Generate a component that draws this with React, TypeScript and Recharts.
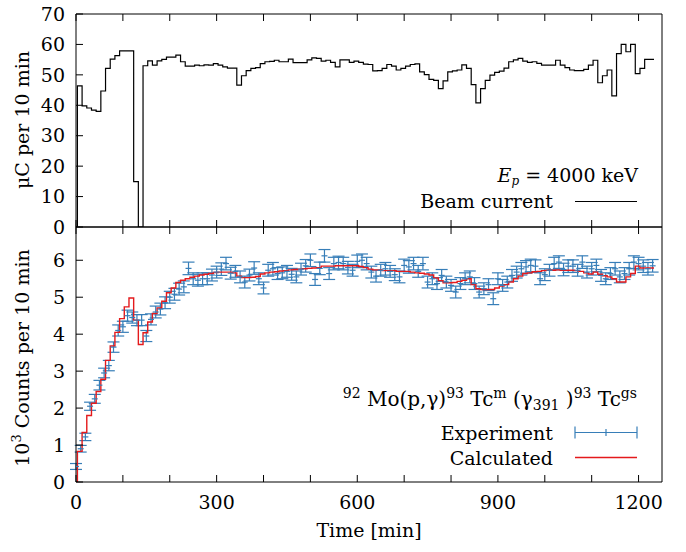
import { ComposedChart, ErrorBar, Line, Scatter, XAxis, YAxis } from 'recharts'

// 10-minute bins, first bin edge at t = 3 min
const binStart = 3
const binWidth = 10

// beam current per bin [uC per 10 min]
const beamCurrent = [
  46.4, 39.8, 39.1, 38.4, 38.0, 44.7, 52.1, 55.2, 56.3, 57.9,
  57.9, 57.9, 14.9, 0, 53.0, 54.6, 53.2, 54.6, 55.1, 55.8,
  55.8, 56.5, 54.3, 52.9, 52.9, 53.2, 53.0, 53.3, 53.2, 53.7,
  53.2, 52.6, 52.2, 52.2, 46.6, 49.7, 51.4, 52.1, 52.4, 53.7,
  54.3, 54.4, 54.8, 54.3, 54.3, 55.2, 54.0, 54.0, 54.0, 54.9,
  55.6, 55.4, 54.5, 54.8, 54.1, 52.6, 54.9, 54.9, 54.1, 54.5,
  54.1, 53.5, 53.4, 51.3, 51.4, 52.1, 53.4, 52.9, 51.6, 52.1,
  52.9, 53.4, 53.6, 51.0, 50.1, 48.5, 48.2, 45.5, 48.0, 51.0,
  51.3, 51.6, 53.3, 52.1, 46.8, 40.8, 45.5, 48.2, 49.9, 50.8,
  51.2, 52.2, 54.3, 54.9, 55.4, 54.5, 54.1, 54.3, 53.8, 53.2,
  53.2, 53.2, 54.8, 53.2, 52.4, 51.6, 51.4, 51.4, 51.8, 53.2,
  54.8, 47.4, 49.7, 51.6, 43.1, 57.0, 60.0, 57.6, 60.0, 50.4,
  52.1, 55.1, 55.1,
]

// calculated counts per bin [10^3 per 10 min]
const calculated = [
  0.83, 1.34, 1.80, 2.13, 2.45, 2.78, 3.29, 3.68, 4.05, 4.42,
  4.74, 4.98, 4.38, 3.72, 4.04, 4.33, 4.56, 4.71, 4.89, 5.12,
  5.25, 5.40, 5.46, 5.50, 5.54, 5.57, 5.60, 5.62, 5.64, 5.67,
  5.68, 5.68, 5.68, 5.66, 5.57, 5.53, 5.53, 5.54, 5.56, 5.63,
  5.66, 5.68, 5.69, 5.71, 5.72, 5.74, 5.75, 5.76, 5.77, 5.78,
  5.79, 5.80, 5.84, 5.84, 5.84, 5.85, 5.85, 5.85, 5.85, 5.85,
  5.83, 5.80, 5.76, 5.74, 5.74, 5.72, 5.72, 5.72, 5.70, 5.70,
  5.70, 5.68, 5.66, 5.65, 5.63, 5.60, 5.52, 5.45, 5.39, 5.39,
  5.40, 5.43, 5.46, 5.50, 5.34, 5.23, 5.21, 5.21, 5.21, 5.25,
  5.30, 5.34, 5.41, 5.50, 5.57, 5.64, 5.66, 5.69, 5.70, 5.72,
  5.73, 5.73, 5.74, 5.73, 5.73, 5.73, 5.72, 5.70, 5.66, 5.63,
  5.68, 5.62, 5.58, 5.55, 5.50, 5.41, 5.41, 5.55, 5.64, 5.84,
  5.79, 5.79, 5.79,
]

// measured counts, one point every 10 min from t = 0
const experiment = [
  0.42, 0.90, 1.22, 2.05, 2.25, 2.62, 2.95, 3.15, 3.65, 4.10,
  4.20, 4.50, 4.45, 4.38, 4.38, 3.95, 4.40, 4.60, 4.68, 4.85,
  5.00, 5.08, 5.22, 5.28, 5.78, 5.50, 5.46, 5.50, 5.50, 5.60,
  5.68, 5.76, 5.91, 5.65, 5.70, 5.55, 5.41, 5.60, 5.79, 5.50,
  5.25, 5.73, 5.77, 5.64, 5.66, 5.70, 5.62, 5.55, 5.76, 5.85,
  6.00, 5.48, 5.78, 6.12, 5.64, 5.91, 5.94, 5.91, 5.80, 5.73,
  5.97, 6.00, 5.91, 5.68, 5.57, 5.73, 5.77, 5.70, 5.61, 5.55,
  5.86, 5.82, 5.91, 5.70, 5.91, 5.41, 5.50, 5.37, 5.59, 5.41,
  5.32, 5.14, 5.37, 5.50, 5.55, 5.37, 5.14, 5.23, 5.34, 4.96,
  5.50, 5.32, 5.41, 5.59, 5.68, 5.77, 5.82, 5.86, 5.84, 5.50,
  5.61, 5.73, 5.91, 5.95, 5.75, 5.84, 5.84, 5.73, 5.95, 5.68,
  5.77, 5.86, 5.59, 5.50, 5.64, 5.77, 5.55, 5.64, 5.77, 5.95,
  5.91, 5.84, 5.77, 5.85,
]

const experimentErr = [
  0.08, 0.09, 0.10, 0.11, 0.12, 0.13, 0.13, 0.14, 0.14, 0.15,
  0.15, 0.15, 0.15, 0.15, 0.15, 0.15, 0.15, 0.16, 0.16, 0.16,
  0.16, 0.16, 0.16, 0.16, 0.17, 0.16, 0.16, 0.16, 0.16, 0.16,
  0.16, 0.17, 0.17, 0.16, 0.16, 0.16, 0.16, 0.16, 0.17, 0.16,
  0.16, 0.16, 0.17, 0.16, 0.16, 0.16, 0.16, 0.16, 0.16, 0.17,
  0.17, 0.16, 0.17, 0.17, 0.16, 0.17, 0.17, 0.17, 0.17, 0.16,
  0.17, 0.17, 0.17, 0.16, 0.16, 0.16, 0.17, 0.16, 0.16, 0.16,
  0.17, 0.17, 0.17, 0.16, 0.17, 0.16, 0.16, 0.16, 0.16, 0.16,
  0.16, 0.16, 0.16, 0.16, 0.16, 0.16, 0.16, 0.16, 0.16, 0.16,
  0.16, 0.16, 0.16, 0.16, 0.16, 0.17, 0.17, 0.17, 0.17, 0.16,
  0.16, 0.16, 0.17, 0.17, 0.17, 0.17, 0.17, 0.16, 0.17, 0.16,
  0.17, 0.17, 0.16, 0.16, 0.16, 0.17, 0.16, 0.16, 0.17, 0.17,
  0.17, 0.17, 0.17, 0.17,
]

const timeTicks = [0, 100, 200, 300, 400, 500, 600, 700, 800, 900, 1000, 1100, 1200]
const timeLabels = [0, 300, 600, 900, 1200]
const beamTicks = [0, 10, 20, 30, 40, 50, 60, 70]
const countTicks = [0, 1, 2, 3, 4, 5, 6]

const FONT = 'DejaVu Serif'
const BLUE = '#377eb8'
const RED = '#e41a1c'
const AXIS = '#000'

// step series: start on the axis, one point per bin edge, close with the last bin edge
function stepData(values: number[]) {
  const pts = [{ t: 0, v: 0 }]
  values.forEach((v, i) => pts.push({ t: binStart + i * binWidth, v }))
  pts.push({ t: binStart + values.length * binWidth, v: values[values.length - 1] })
  return pts
}

const beamData = stepData(beamCurrent)
const calcData = stepData(calculated)
const expData = experiment.map((v, i) => ({ t: i * binWidth, v, err: experimentErr[i] }))

const tickStyle = { fill: '#000', fontSize: 19, fontFamily: FONT }

function PlusMark(props: any) {
  const { cx, cy } = props
  if (cx == null || cy == null) return null
  return <path d={`M${cx - 3},${cy}H${cx + 3}`} stroke={BLUE} strokeWidth={1.2} fill="none" />
}

function timeAxes(showLabels: boolean) {
  return [
    <XAxis
      key="bottom"
      xAxisId={0}
      dataKey="t"
      type="number"
      domain={[0, 1250]}
      ticks={timeTicks}
      allowDataOverflow
      stroke={AXIS}
      tickSize={-7}
      tickMargin={21}
      height={showLabels ? 70 : 1}
      tick={tickStyle}
      tickFormatter={(v: number) => (showLabels && timeLabels.includes(v) ? String(v) : '')}
    />,
    <XAxis
      key="top"
      xAxisId="top"
      orientation="top"
      dataKey="t"
      type="number"
      domain={[0, 1250]}
      ticks={timeTicks}
      allowDataOverflow
      stroke={AXIS}
      tickSize={-7}
      height={1}
      tickFormatter={() => ''}
    />,
  ]
}

function valueAxes(domain: [number, number], ticks: number[]) {
  return [
    <YAxis
      key="left"
      yAxisId={0}
      type="number"
      domain={domain}
      ticks={ticks}
      allowDataOverflow
      width={60}
      stroke={AXIS}
      tickSize={-7}
      tickMargin={18}
      tick={tickStyle}
    />,
    <YAxis
      key="right"
      yAxisId="right"
      orientation="right"
      type="number"
      domain={domain}
      allowDataOverflow
      width={1}
      stroke={AXIS}
      tick={false}
      tickLine={false}
    />,
  ]
}

export default function App() {
  return (
    <div style={{ position: 'absolute', left: 0, top: 0, width: 686, height: 552, background: '#fff' }}>
      <div style={{ position: 'absolute', left: 0, top: 0 }}>
        <ComposedChart width={686} height={240} margin={{ top: 13, right: 23, left: 16, bottom: 12 }}>
          {timeAxes(false)}
          {valueAxes([0, 70], beamTicks)}
          {/* invisible copies keep the mirrored axes bound to data */}
          <Line data={beamData} dataKey="v" xAxisId="top" yAxisId="right" stroke="none" dot={false} activeDot={false} isAnimationActive={false} />
          <Line
            data={beamData}
            dataKey="v"
            type="stepAfter"
            stroke="#000"
            strokeWidth={1.2}
            dot={false}
            activeDot={false}
            isAnimationActive={false}
          />
        </ComposedChart>
      </div>
      <div style={{ position: 'absolute', left: 0, top: 226 }}>
        <ComposedChart width={686} height={326} margin={{ top: 0, right: 23, left: 16, bottom: 0 }}>
          {timeAxes(true)}
          {valueAxes([0, 6.9], countTicks)}
          <Line data={calcData} dataKey="v" xAxisId="top" yAxisId="right" stroke="none" dot={false} activeDot={false} isAnimationActive={false} />
          <Scatter data={expData} dataKey="v" shape={<PlusMark />} isAnimationActive={false}>
            <ErrorBar dataKey="err" direction="y" width={6} stroke={BLUE} strokeWidth={1.2} isAnimationActive={false} />
          </Scatter>
          <Line
            data={calcData}
            dataKey="v"
            type="stepAfter"
            stroke={RED}
            strokeWidth={1.4}
            dot={false}
            activeDot={false}
            isAnimationActive={false}
          />
        </ComposedChart>
      </div>

      <svg
        width={686}
        height={552}
        style={{ position: 'absolute', left: 0, top: 0, pointerEvents: 'none' }}
        fontFamily={FONT}
        fontSize={19}
        fill="#000"
      >
        <text transform="rotate(-90 29 120)" x={29} y={120} textAnchor="middle">
          μC per 10 min
        </text>
        <text transform="rotate(-90 29 358)" x={29} y={358} textAnchor="middle">
          10<tspan fontSize={13} dy={-8}>3</tspan>
          <tspan dy={8}> Counts per 10 min</tspan>
        </text>
        <text x={369} y={537} textAnchor="middle">
          Time [min]
        </text>

        <text x={638} y={182} textAnchor="end">
          <tspan fontStyle="italic">E</tspan>
          <tspan fontStyle="italic" fontSize={12} dy={3}>p</tspan>
          <tspan dy={-3}> = 4000 keV</tspan>
        </text>
        <text x={553} y={208} textAnchor="end">
          Beam current
        </text>
        <line x1={575} x2={637} y1={201.5} y2={201.5} stroke="#000" strokeWidth={1.2} />

        <text x={637} y={406} textAnchor="end" fontSize={20}>
          <tspan fontSize={14} dy={-8}>92</tspan>
          <tspan dy={8}> Mo(p,γ)</tspan>
          <tspan fontSize={14} dy={-8}>93</tspan>
          <tspan dy={8}> Tc</tspan>
          <tspan fontSize={14} dy={-8}>m</tspan>
          <tspan dy={8}> (γ</tspan>
          <tspan fontSize={14} dy={4}>391</tspan>
          <tspan dy={-4}> )</tspan>
          <tspan fontSize={14} dy={-8}>93</tspan>
          <tspan dy={8}> Tc</tspan>
          <tspan fontSize={14} dy={-8}>gs</tspan>
        </text>
        <text x={553} y={440} textAnchor="end">
          Experiment
        </text>
        <g stroke={BLUE} strokeWidth={1.2}>
          <line x1={575} x2={637} y1={432.5} y2={432.5} />
          <line x1={575} x2={575} y1={426.5} y2={438.5} />
          <line x1={637} x2={637} y1={426.5} y2={438.5} />
          <line x1={606} x2={606} y1={429} y2={436} />
        </g>
        <text x={553} y={465} textAnchor="end">
          Calculated
        </text>
        <line x1={575} x2={637} y1={457.5} y2={457.5} stroke={RED} strokeWidth={1.4} />
      </svg>
    </div>
  )
}
